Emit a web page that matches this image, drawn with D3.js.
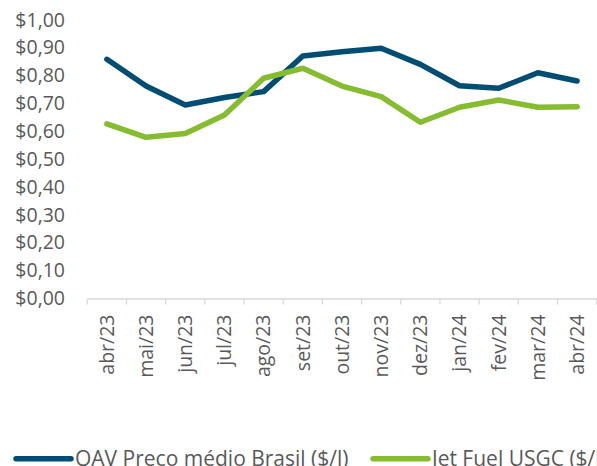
<!DOCTYPE html>
<html>
<head>
<meta charset="utf-8">
<script src="https://cdn.jsdelivr.net/npm/d3@7"></script>
<style>
  html, body { margin: 0; padding: 0; background: #fff; overflow: hidden; }
  svg { display: block; }
  text { font-family: "Open Sans", sans-serif; fill: #595959; }
</style>
</head>
<body>
<svg id="chart" width="597" height="466"></svg>
<script>
const categories = ["abr/23","mai/23","jun/23","jul/23","ago/23","set/23","out/23","nov/23","dez/23","jan/24","fev/24","mar/24","abr/24"];
const qavValues = [0.857,0.761,0.693,0.720,0.741,0.869,0.884,0.897,0.839,0.762,0.753,0.809,0.779];
const jetValues = [0.625,0.577,0.591,0.657,0.789,0.825,0.761,0.723,0.631,0.685,0.711,0.685,0.687];
const yTicks = [0,0.1,0.2,0.3,0.4,0.5,0.6,0.7,0.8,0.9,1.0];
const seriesNames = ["QAV Preço médio Brasil ($/l)", "Jet Fuel USGC ($/l)"];
const seriesColors = ["#004d74", "#86bc30"];

const svg = d3.select("#chart");
const x = d3.scaleBand().domain(categories).range([87.3, 596.7]);
const y = d3.scaleLinear().domain([0, 1]).range([298, 19.5]);

// y axis labels
const fmt = v => "$" + v.toFixed(2).replace(".", ",");
const yAxis = d3.axisLeft(y).tickValues(yTicks).tickFormat(fmt).tickSize(0).tickPadding(0);
const gy = svg.append("g").attr("transform", "translate(65,0)").call(yAxis);
gy.select(".domain").remove();
gy.selectAll("text").style("font-size", "19.5px").attr("fill", "#595959").attr("dy", "0.34em");

// x axis
const xAxis = d3.axisBottom(x).tickSizeInner(0).tickSizeOuter(0);
const gx = svg.append("g").attr("transform", "translate(0,298.5)").call(xAxis);
gx.select(".domain").attr("stroke", "#d9d9d9").attr("stroke-width", 1.3);
gx.selectAll(".tick line").remove();
// boundary ticks between categories
const bounds = categories.map(c => x(c)).concat([x.range()[1]]);
gx.selectAll("line.bt").data(bounds).enter().append("line")
  .attr("class", "bt")
  .attr("x1", d => d).attr("x2", d => d)
  .attr("y1", 0).attr("y2", 6)
  .attr("stroke", "#d9d9d9").attr("stroke-width", 1.3);
gx.selectAll(".tick text")
  .style("font-size", "19.5px")
  .attr("fill", "#595959")
  .attr("text-anchor", "end")
  .attr("transform", "rotate(-90)")
  .attr("x", -16)
  .attr("y", 0)
  .attr("dy", "0.35em");

// lines
const line = d3.line()
  .x((d, i) => x(categories[i]) + x.bandwidth() / 2)
  .y(d => y(d));
[qavValues, jetValues].forEach((vals, k) => {
  svg.append("path")
    .datum(vals)
    .attr("d", line)
    .attr("fill", "none")
    .attr("stroke", seriesColors[k])
    .attr("stroke-width", 5.5)
    .attr("stroke-linejoin", "round")
    .attr("stroke-linecap", "round");
});

// legend
const legendX = [16, 373];
const legendY = 458.7;
seriesNames.forEach((name, k) => {
  const g = svg.append("g").attr("transform", `translate(${legendX[k]},${legendY})`);
  g.append("line").attr("x1", 0).attr("x2", 55).attr("y1", 0).attr("y2", 0)
    .attr("stroke", seriesColors[k]).attr("stroke-width", 5.5).attr("stroke-linecap", "round");
  g.append("text").attr("x", 59).attr("y", 0).attr("dy", "0.35em")
    .style("font-size", "21px").text(name);
});
</script>
</body>
</html>
